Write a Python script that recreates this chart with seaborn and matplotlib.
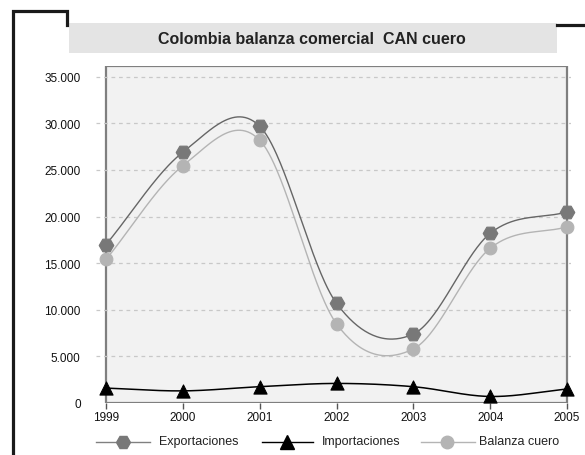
import numpy as np
import pandas as pd
import matplotlib
matplotlib.use("Agg")
import matplotlib.pyplot as plt
from matplotlib.lines import Line2D
from matplotlib.patches import Rectangle
from matplotlib.ticker import FuncFormatter
import seaborn as sns

# ---- data ----
years = [1999, 2000, 2001, 2002, 2003, 2004, 2005]
exportaciones = [17000, 26900, 29700, 10700, 7400, 18200, 20500]
importaciones = [1600, 1300, 1750, 2100, 1750, 700, 1500]
balanza_cuero = [15400, 25450, 28200, 8500, 5800, 16600, 18900]
y_ticks = [0, 5000, 10000, 15000, 20000, 25000, 30000, 35000]
title = "Colombia balanza comercial  CAN cuero"
series_names = ["Exportaciones", "Importaciones", "Balanza cuero"]


def smooth_curve(ax, xs, ys, alpha=0.0, npts=60):
    """Catmull-Rom smoothing (Excel-like smoothed line), computed in display space."""
    P = ax.transData.transform(np.column_stack([xs, ys]).astype(float))
    Q = np.vstack([2 * P[0] - P[1], P, 2 * P[-1] - P[-2]])
    segs = []
    for i in range(1, len(Q) - 2):
        p0, p1, p2, p3 = Q[i - 1], Q[i], Q[i + 1], Q[i + 2]
        t1 = np.linalg.norm(p1 - p0) ** alpha
        t2 = t1 + np.linalg.norm(p2 - p1) ** alpha
        t3 = t2 + np.linalg.norm(p3 - p2) ** alpha
        m1 = (t2 - t1) * ((p1 - p0) / t1 - (p2 - p0) / t2 + (p2 - p1) / (t2 - t1))
        m2 = (t2 - t1) * ((p2 - p1) / (t2 - t1) - (p3 - p1) / (t3 - t1) + (p3 - p2) / (t3 - t2))
        c1 = p1 + m1 / 3
        c2 = p2 - m2 / 3
        s = np.linspace(0, 1, npts)[:, None]
        segs.append((1 - s) ** 3 * p1 + 3 * (1 - s) ** 2 * s * c1
                    + 3 * (1 - s) * s ** 2 * c2 + s ** 3 * p2)
    C = ax.transData.inverted().transform(np.vstack(segs))
    return pd.DataFrame({"x": C[:, 0], "y": C[:, 1]})


plt.rcParams['font.family'] = ['Liberation Sans', 'DejaVu Sans']
W, H = 585, 456
fig = plt.figure(figsize=(W / 100, H / 100), dpi=100)
fig.patch.set_facecolor("white")


def fx(px):
    return px / W


def fy(py):
    return 1 - py / H


ppy = 46.6 / 5000
ytop = (404 - 67) / ppy
ax = fig.add_axes([fx(96), fy(404), fx(571) - fx(96), fy(67) - fy(404)])
ax.set_facecolor("none")
ax.set_xlim(1999 - 10 / 76.8, 2005 + 4 / 76.8)
ax.set_ylim(0, ytop)
for s in ax.spines.values():
    s.set_visible(False)

ax.add_patch(Rectangle((1999, 0), 6, ytop, facecolor="#f2f2f2",
                       edgecolor="#7f7f7f", linewidth=1.6, zorder=0))
for yt in y_ticks[1:]:
    ax.axhline(yt, color="#c8c8c8", linestyle=(0, (3, 3)), linewidth=0.9, zorder=1)

styles = {
    "bal": dict(color="#b4b4b4", lw=1.0, z=3),
    "exp": dict(color="#666666", lw=1.0, z=4),
    "imp": dict(color="#000000", lw=1.1, z=5),
}
for key, vals in [("bal", balanza_cuero), ("exp", exportaciones), ("imp", importaciones)]:
    df_c = smooth_curve(ax, years, vals)
    st = styles[key]
    sns.lineplot(data=df_c, x="x", y="y", ax=ax, sort=False, estimator=None,
                 color=st["color"], linewidth=st["lw"], zorder=st["z"])

df_pts = pd.DataFrame({"x": years, "exp": exportaciones,
                       "imp": importaciones, "bal": balanza_cuero})
sns.scatterplot(data=df_pts, x="x", y="bal", ax=ax, marker="o", s=85,
                color="#b4b4b4", edgecolor="#b4b4b4", zorder=6, clip_on=False)
sns.scatterplot(data=df_pts, x="x", y="exp", ax=ax, marker="H", s=110,
                color="#787878", edgecolor="#787878", zorder=7, clip_on=False)
sns.scatterplot(data=df_pts, x="x", y="imp", ax=ax, marker="^", s=90,
                color="#000000", edgecolor="#000000", zorder=8, clip_on=False)

ax.set_xlabel(""); ax.set_ylabel("")
ax.set_xticks(years)
ax.set_xticklabels([str(y) for y in years], fontsize=8.5, color="#111111")
ax.set_yticks(y_ticks)
ax.yaxis.set_major_formatter(FuncFormatter(lambda v, p: f"{int(v):,}".replace(",", ".")))
ax.tick_params(axis="y", length=0, pad=11, labelsize=8.5, labelcolor="#111111")
ax.tick_params(axis="x", length=4, width=1, color="#555555", pad=1.5, direction="out")

# title box
fig.patches.append(Rectangle((fx(69), fy(54)), fx(557) - fx(69), fy(24) - fy(54),
                             transform=fig.transFigure, facecolor="#e4e4e4",
                             edgecolor="none", zorder=0))
fig.text(fx(312), fy(40), title, ha="center", va="center",
         fontsize=11.5, fontweight="bold", color="#222222")

# decorative black frame
lw = 2.3
fig.lines.append(Line2D([fx(13), fx(13), fx(67), fx(67)],
                        [fy(458), fy(11.5), fy(11.5), fy(26)],
                        transform=fig.transFigure, color="#1a1a1a", linewidth=lw,
                        solid_joinstyle="miter"))
fig.lines.append(Line2D([fx(557), fx(586)], [fy(25.5), fy(25.5)],
                        transform=fig.transFigure, color="#1a1a1a", linewidth=lw))

# legend (manual)
leg_y = fy(442.5)
leg_items = [
    (series_names[0], 96, 150, 123, dict(color="#808080", marker="H", ms=10, mfc="#787878", mec="#787878"), 159),
    (series_names[1], 262, 313, 287, dict(color="#000000", marker="^", ms=10, mfc="#000000", mec="#000000"), 322),
    (series_names[2], 421, 475, 447, dict(color="#b4b4b4", marker="o", ms=9, mfc="#b4b4b4", mec="#b4b4b4"), 479),
]
for name, x0, x1, xm, st, xt in leg_items:
    fig.lines.append(Line2D([fx(x0), fx(x1)], [leg_y, leg_y], transform=fig.transFigure,
                            color=st["color"], linewidth=1.0))
    fig.lines.append(Line2D([fx(xm)], [leg_y], transform=fig.transFigure, linestyle="none",
                            marker=st["marker"], markersize=st["ms"],
                            markerfacecolor=st["mfc"], markeredgecolor=st["mec"]))
    fig.text(fx(xt), leg_y, name, ha="left", va="center", fontsize=9, color="#222222")

fig.savefig("out.png", dpi=100)
